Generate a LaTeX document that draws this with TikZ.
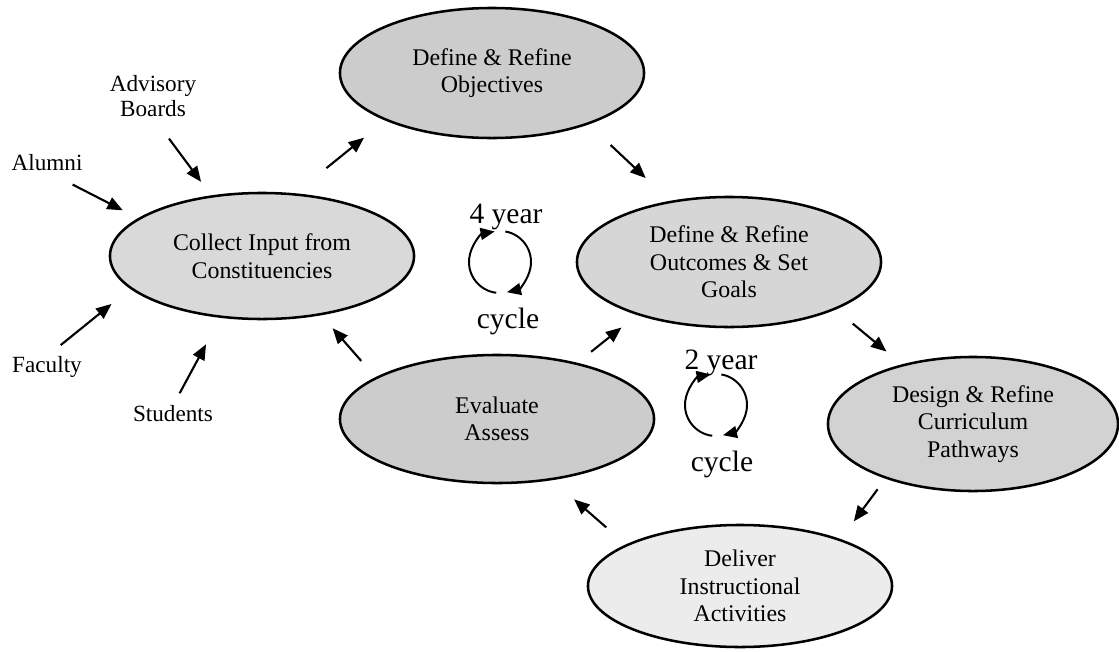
\documentclass[tikz,border=0pt]{standalone}
\usepackage{fontspec}
\setmainfont{Liberation Serif}
\usetikzlibrary{arrows.meta,shapes.geometric}

\begin{document}
\begin{tikzpicture}[x=0.025cm, y=0.025cm,
  stage/.style={ellipse, draw, line width=1.8pt, inner sep=0pt,
    minimum width=7.6cm, minimum height=3.2cm, align=center,
    font=\fontsize{17}{19.5}\selectfont},
  source/.style={inner sep=0pt, align=center,
    font=\fontsize{16.5}{18}\selectfont},
  period/.style={inner sep=0pt, font=\fontsize{21}{24}\selectfont},
  flow/.style={line width=1.5pt, -{Triangle[length=11pt, width=9pt]}},
  turn/.style={line width=1.4pt, -{Triangle[length=10pt, width=8.5pt]}}]

\useasboundingbox
  (0,0) rectangle (1119,-652);

% the six stages
\node[stage, fill=gray!40, minimum height=3.25cm] (objectives)
  at (492,-73) {Define \& Refine\\Objectives};
\node[stage, fill=gray!30, minimum height=3.15cm] (collect)
  at (262,-256) {Collect Input from\\Constituencies};
\node[stage, fill=gray!32, minimum height=3.25cm] (outcomes)
  at (729,-262) {Define \& Refine\\Outcomes \& Set\\Goals};
\node[stage, fill=gray!40, minimum width=7.85cm] (evaluate)
  at (497,-419) {Evaluate\\Assess};
\node[stage, fill=gray!35, minimum width=7.25cm, minimum height=3.35cm] (design)
  at (973,-424) {Design \& Refine\\Curriculum\\Pathways};
\node[stage, fill=gray!15, minimum height=3.05cm] (deliver)
  at (740,-586) {Deliver\\Instructional\\Activities};

% constituencies
\node[source] (alumni) at (47,-163) {Alumni};
\node[source] (advisory) at (153,-96) {Advisory\\Boards};
\node[source] (faculty) at (47,-367) {Faculty};
\node[source] (students) at (173,-414) {Students};

\draw[flow, shorten <=0.72cm, shorten >=0.43cm]
  (alumni.south) -- (collect.163);
\draw[flow, shorten <=0.67cm, shorten >=0.42cm]
  (advisory.south) -- (collect.130);
\draw[flow, shorten <=0.44cm, shorten >=0.6cm]
  (faculty.north) -- (collect.194);
\draw[flow, shorten <=0.35cm, shorten >=0.75cm]
  (students.north) -- (collect.236);

% the loop
\draw[flow, shorten <=1cm, shorten >=0.68cm]
  (collect.62) -- (objectives.204);
\draw[flow, shorten <=0.75cm, shorten >=0.83cm]
  (objectives.332) -- (outcomes.134);
\draw[flow, shorten <=0.55cm, shorten >=0.5cm]
  (outcomes.336) -- (design.140);
\draw[flow, shorten <=0.33cm, shorten >=0.55cm]
  (design.212) -- (deliver.25);
\draw[flow, shorten <=0.65cm, shorten >=0.73cm]
  (deliver.160) -- (evaluate.312);
\draw[flow, shorten <=0.44cm, shorten >=0.5cm]
  (evaluate.35) -- (outcomes.210);
\draw[flow, shorten <=0.54cm, shorten >=0.43cm]
  (evaluate.161) -- (collect.315);

% 4 year cycle
\coordinate (fourturn) at (500,-262);
\node[period] (fourlabel) at (506,-217) {4 year};
\node[period] (fourcycle) at (508,-321) {cycle};
\draw[turn]
  ([shift={(263:31)}]fourturn) arc[start angle=263, end angle=100, radius=31];
\draw[turn]
  ([shift={(80:31)}]fourturn) arc[start angle=80, end angle=-77, radius=31];

% 2 year cycle
\coordinate (twoturn) at (716,-405);
\node[period] (twolabel) at (721,-363) {2 year};
\node[period] (twocycle) at (722,-464) {cycle};
\draw[turn]
  ([shift={(263:31)}]twoturn) arc[start angle=263, end angle=100, radius=31];
\draw[turn]
  ([shift={(80:31)}]twoturn) arc[start angle=80, end angle=-77, radius=31];

\end{tikzpicture}
\end{document}
